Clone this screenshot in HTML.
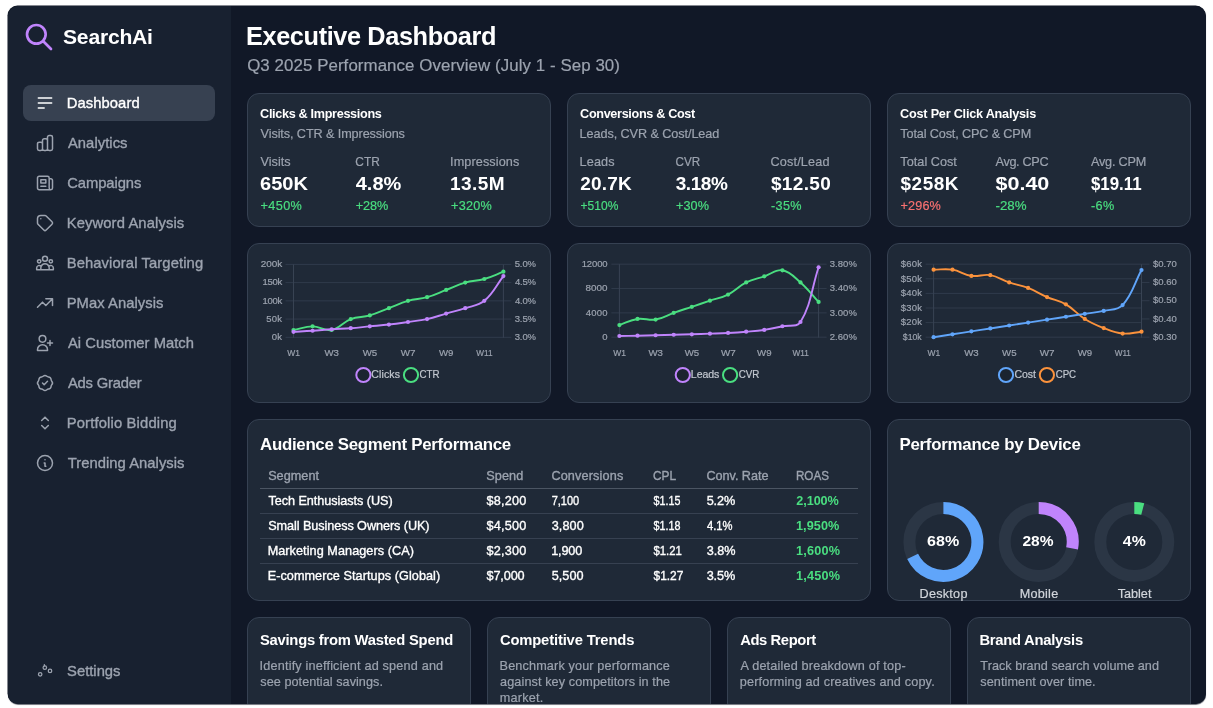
<!DOCTYPE html>
<html lang="en">
<head>
<meta charset="utf-8">
<title>SearchAi - Executive Dashboard</title>
<style>

*{box-sizing:border-box;margin:0;padding:0}
html,body{width:1213px;height:708px;overflow:hidden;background:#fff}
body{position:relative;font-family:"Liberation Sans", sans-serif;color:#fff;-webkit-font-smoothing:antialiased}
.win{position:absolute;left:8px;top:6px;width:1198px;height:698px;border-radius:10px;overflow:hidden;background:#111827;box-shadow:-.5px -.5px 0 0 #141b29,0 .6px .7px rgba(20,27,41,.6)}
.sidebar{position:absolute;left:0;top:0;width:223.00px;height:100%;background:#182130}
.main{position:absolute;left:223.00px;top:0;right:0;height:100%}
.t{position:absolute;white-space:nowrap;line-height:0;font-weight:400;font-style:normal;font-size:12px;display:block;text-align:left;border:0;transform-origin:0 50%}
.ic{position:absolute;display:block;overflow:visible}
.nav{position:absolute;left:15.00px;width:192.00px;height:36px;border-radius:8px;display:block;text-decoration:none}
.nav.active{background:#374151}
.card{position:absolute;background:#1f2937;border:1px solid #364152;border-radius:12px}
.card svg.chart{position:absolute;left:-1px;top:-1px;overflow:visible}
table,thead,tbody,tr{display:block;border:0}
.rule{position:absolute;height:1px;background:#374151}
.rule.head{background:#4b5563}

</style>
</head>
<body>
<div class="win">
<aside class="sidebar">
<div class="logo"><svg class="ic" style="left:15.00px;top:15.00px" width="32" height="32" viewBox="0 0 24 24" fill="none" stroke="#c084fc" stroke-width="2" stroke-linecap="round" stroke-linejoin="round"><path d="M21 21l-6-6m2-5a7 7 0 11-14 0 7 7 0 0114 0z"/></svg><span class="t" style="left:55.00px;top:31.10px;font-size:21.1px;font-weight:700;letter-spacing:-0.21px;">SearchAi</span></div>
<nav>
<a class="nav active" style="top:79.00px"><svg class="ic" style="left:12.00px;top:8.00px" width="20" height="20" viewBox="0 0 24 24" fill="none" stroke="#ffffff" stroke-width="1.8" stroke-linecap="round" stroke-linejoin="round"><path d="M4 6h16M4 12h16M4 18h7"/></svg><span class="t" style="left:43.70px;top:18.10px;font-size:14.77px;letter-spacing:0.09px;-webkit-text-stroke:0.35px currentColor;">Dashboard</span></a>
<a class="nav" style="top:119.00px"><svg class="ic" style="left:12.00px;top:8.00px" width="20" height="20" viewBox="0 0 24 24" fill="none" stroke="#9ca3af" stroke-width="1.8" stroke-linecap="round" stroke-linejoin="round"><path d="M9 19v-6a2 2 0 00-2-2H5a2 2 0 00-2 2v6a2 2 0 002 2h2a2 2 0 002-2zm0 0V9a2 2 0 012-2h2a2 2 0 012 2v10m-6 0a2 2 0 002 2h2a2 2 0 002-2m0 0V5a2 2 0 012-2h2a2 2 0 012 2v14a2 2 0 01-2 2h-2a2 2 0 01-2-2z"/></svg><span class="t" style="left:44.95px;top:18.10px;font-size:14.77px;color:#9ca3af;letter-spacing:0.06px;-webkit-text-stroke:0.35px currentColor;">Analytics</span></a>
<a class="nav" style="top:159.00px"><svg class="ic" style="left:12.00px;top:8.00px" width="20" height="20" viewBox="0 0 24 24" fill="none" stroke="#9ca3af" stroke-width="1.8" stroke-linecap="round" stroke-linejoin="round"><path d="M19 20H5a2 2 0 01-2-2V6a2 2 0 012-2h10a2 2 0 012 2v1m2 13a2 2 0 01-2-2V7m2 13a2 2 0 002-2V9a2 2 0 00-2-2h-2m-4-3H9M7 16h6M7 8h6v4H7V8z"/></svg><span class="t" style="left:44.20px;top:18.10px;font-size:14.77px;color:#9ca3af;letter-spacing:-0.06px;-webkit-text-stroke:0.35px currentColor;">Campaigns</span></a>
<a class="nav" style="top:199.00px"><svg class="ic" style="left:12.00px;top:8.00px" width="20" height="20" viewBox="0 0 24 24" fill="none" stroke="#9ca3af" stroke-width="1.8" stroke-linecap="round" stroke-linejoin="round"><path d="M7 7h.01M7 3h5c.512 0 1.024.195 1.414.586l7 7a2 2 0 010 2.828l-7 7a2 2 0 01-2.828 0l-7-7A1.994 1.994 0 013 12V7a4 4 0 014-4z"/></svg><span class="t" style="left:43.70px;top:18.10px;font-size:14.77px;color:#9ca3af;letter-spacing:0.12px;-webkit-text-stroke:0.35px currentColor;">Keyword Analysis</span></a>
<a class="nav" style="top:239.00px"><svg class="ic" style="left:12.00px;top:8.00px" width="20" height="20" viewBox="0 0 24 24" fill="none" stroke="#9ca3af" stroke-width="1.8" stroke-linecap="round" stroke-linejoin="round"><path d="M17 20h5v-2a3 3 0 00-5.356-1.857M17 20H7m10 0v-2c0-.656-.126-1.283-.356-1.857M7 20H2v-2a3 3 0 015.356-1.857M7 20v-2c0-.656.126-1.283.356-1.857m0 0a5.002 5.002 0 019.288 0M15 7a3 3 0 11-6 0 3 3 0 016 0zm6 3a2 2 0 11-4 0 2 2 0 014 0zM7 10a2 2 0 11-4 0 2 2 0 014 0z"/></svg><span class="t" style="left:43.70px;top:18.10px;font-size:14.77px;color:#9ca3af;letter-spacing:0.11px;-webkit-text-stroke:0.35px currentColor;">Behavioral Targeting</span></a>
<a class="nav" style="top:279.00px"><svg class="ic" style="left:12.00px;top:8.00px" width="20" height="20" viewBox="0 0 24 24" fill="none" stroke="#9ca3af" stroke-width="1.8" stroke-linecap="round" stroke-linejoin="round"><path d="M13 7h8m0 0v8m0-8l-8 8-4-4-6 6"/></svg><span class="t" style="left:43.70px;top:18.10px;font-size:14.77px;color:#9ca3af;letter-spacing:0.06px;-webkit-text-stroke:0.35px currentColor;">PMax Analysis</span></a>
<a class="nav" style="top:319.00px"><svg class="ic" style="left:12.00px;top:8.00px" width="20" height="20" viewBox="0 0 24 24" fill="none" stroke="#9ca3af" stroke-width="1.8" stroke-linecap="round" stroke-linejoin="round"><path d="M18 9v3m0 0v3m0-3h3m-3 0h-3m-2-5a4 4 0 11-8 0 4 4 0 018 0zM3 20a6 6 0 0112 0v1H3v-1z"/></svg><span class="t" style="left:44.95px;top:18.10px;font-size:14.77px;color:#9ca3af;letter-spacing:0.03px;-webkit-text-stroke:0.35px currentColor;">Ai Customer Match</span></a>
<a class="nav" style="top:359.00px"><svg class="ic" style="left:12.00px;top:8.00px" width="20" height="20" viewBox="0 0 24 24" fill="none" stroke="#9ca3af" stroke-width="1.8" stroke-linecap="round" stroke-linejoin="round"><path d="M9 12l2 2 4-4M7.835 4.697a3.42 3.42 0 001.946-.806 3.42 3.42 0 014.438 0 3.42 3.42 0 001.946.806 3.42 3.42 0 013.138 3.138 3.42 3.42 0 00.806 1.946 3.42 3.42 0 010 4.438 3.42 3.42 0 00-.806 1.946 3.42 3.42 0 01-3.138 3.138 3.42 3.42 0 00-1.946.806 3.42 3.42 0 01-4.438 0 3.42 3.42 0 00-1.946-.806 3.42 3.42 0 01-3.138-3.138 3.42 3.42 0 00-.806-1.946 3.42 3.42 0 010-4.438 3.42 3.42 0 00.806-1.946 3.42 3.42 0 013.138-3.138z"/></svg><span class="t" style="left:44.95px;top:18.10px;font-size:14.77px;color:#9ca3af;letter-spacing:-0.19px;-webkit-text-stroke:0.35px currentColor;">Ads Grader</span></a>
<a class="nav" style="top:399.00px"><svg class="ic" style="left:12.00px;top:8.00px" width="20" height="20" viewBox="0 0 24 24" fill="none" stroke="#9ca3af" stroke-width="1.8" stroke-linecap="round" stroke-linejoin="round"><path d="M8 9l4-4 4 4m0 6l-4 4-4-4"/></svg><span class="t" style="left:43.70px;top:18.10px;font-size:14.77px;color:#9ca3af;letter-spacing:0.16px;-webkit-text-stroke:0.35px currentColor;">Portfolio Bidding</span></a>
<a class="nav" style="top:439.00px"><svg class="ic" style="left:12.00px;top:8.00px" width="20" height="20" viewBox="0 0 24 24" fill="none" stroke="#9ca3af" stroke-width="1.8" stroke-linecap="round" stroke-linejoin="round"><path d="M13 16h-1v-4h-1m1-4h.01M21 12a9 9 0 11-18 0 9 9 0 0118 0z"/></svg><span class="t" style="left:44.70px;top:18.10px;font-size:14.77px;color:#9ca3af;letter-spacing:0.05px;-webkit-text-stroke:0.35px currentColor;">Trending Analysis</span></a>
</nav>
<a class="nav" style="top:646.00px"><svg class="ic" style="left:12.00px;top:8.00px" width="20" height="20" viewBox="0 0 24 24" fill="none" stroke="#9ca3af" stroke-width="1.5" stroke-linecap="round"><circle cx="6.2" cy="17.2" r="2.1"/><circle cx="11.8" cy="9.2" r="2.1"/><circle cx="18" cy="13.1" r="2.1"/><path d="M11.2 5.6l.3 1.4"/></svg><span class="t" style="left:44.10px;top:19.10px;font-size:14.77px;color:#9ca3af;-webkit-text-stroke:0.35px currentColor;">Settings</span></a>
</aside>
<main class="main">
<header><h1 class="t" style="left:15.00px;top:30.10px;font-size:25.32px;font-weight:700;letter-spacing:-0.39px;">Executive Dashboard</h1><p class="t" style="left:16.15px;top:60.10px;font-size:16.88px;color:#9ca3af;letter-spacing:0.08px;-webkit-text-stroke:0.2px currentColor;">Q3 2025 Performance Overview (July 1 - Sep 30)</p></header>
<section class="card" style="left:16.00px;top:87.00px;width:304.00px;height:134.00px"><h3 class="t" style="left:12.10px;top:20.10px;font-size:12.66px;font-weight:700;letter-spacing:-0.33px;">Clicks &amp; Impressions</h3><p class="t" style="left:12.60px;top:40.10px;font-size:12.66px;color:#9ca3af;letter-spacing:-0.10px;-webkit-text-stroke:0.2px currentColor;">Visits, CTR &amp; Impressions</p><div class="kpi"><span class="t" style="left:12.60px;top:68.10px;font-size:12.66px;color:#9ca3af;-webkit-text-stroke:0.2px currentColor;">Visits</span><strong class="t" style="left:12.00px;top:90.10px;font-size:18.99px;font-weight:700;transform:translateX(0.05px) scaleX(1.0562);">650K</strong><em class="t" style="left:12.60px;top:112.10px;font-size:12.66px;color:#4ade80;letter-spacing:0.37px;-webkit-text-stroke:0.2px currentColor;">+450%</em></div><div class="kpi"><span class="t" style="left:107.00px;top:68.10px;font-size:12.66px;color:#9ca3af;transform:translateX(0.30px) scaleX(0.9400);-webkit-text-stroke:0.2px currentColor;">CTR</span><strong class="t" style="left:107.00px;top:90.10px;font-size:18.99px;font-weight:700;transform:translateX(0.75px) scaleX(1.0530);">4.8%</strong><em class="t" style="left:107.80px;top:112.10px;font-size:12.66px;color:#4ade80;letter-spacing:-0.08px;-webkit-text-stroke:0.2px currentColor;">+28%</em></div><div class="kpi"><span class="t" style="left:202.10px;top:68.10px;font-size:12.66px;color:#9ca3af;letter-spacing:0.10px;-webkit-text-stroke:0.2px currentColor;">Impressions</span><strong class="t" style="left:202.05px;top:90.10px;font-size:18.99px;font-weight:700;letter-spacing:0.44px;">13.5M</strong><em class="t" style="left:203.10px;top:112.10px;font-size:12.66px;color:#4ade80;letter-spacing:0.25px;-webkit-text-stroke:0.2px currentColor;">+320%</em></div></section>
<section class="card" style="left:336.00px;top:87.00px;width:304.00px;height:134.00px"><h3 class="t" style="left:12.10px;top:20.10px;font-size:12.66px;font-weight:700;letter-spacing:-0.34px;">Conversions &amp; Cost</h3><p class="t" style="left:11.60px;top:40.10px;font-size:12.66px;color:#9ca3af;letter-spacing:-0.08px;-webkit-text-stroke:0.2px currentColor;">Leads, CVR &amp; Cost/Lead</p><div class="kpi"><span class="t" style="left:11.60px;top:68.10px;font-size:12.66px;color:#9ca3af;letter-spacing:0.13px;-webkit-text-stroke:0.2px currentColor;">Leads</span><strong class="t" style="left:12.30px;top:90.10px;font-size:18.99px;font-weight:700;letter-spacing:0.19px;">20.7K</strong><em class="t" style="left:12.00px;top:112.10px;font-size:12.66px;color:#4ade80;transform:translateX(0.60px) scaleX(0.9487);-webkit-text-stroke:0.2px currentColor;">+510%</em></div><div class="kpi"><span class="t" style="left:107.00px;top:68.10px;font-size:12.66px;color:#9ca3af;transform:translateX(0.50px) scaleX(0.9224);-webkit-text-stroke:0.2px currentColor;">CVR</span><strong class="t" style="left:107.70px;top:90.10px;font-size:18.99px;font-weight:700;letter-spacing:-0.44px;">3.18%</strong><em class="t" style="left:108.00px;top:112.10px;font-size:12.66px;color:#4ade80;letter-spacing:0.08px;-webkit-text-stroke:0.2px currentColor;">+30%</em></div><div class="kpi"><span class="t" style="left:202.50px;top:68.10px;font-size:12.66px;color:#9ca3af;letter-spacing:0.16px;-webkit-text-stroke:0.2px currentColor;">Cost/Lead</span><strong class="t" style="left:202.95px;top:90.10px;font-size:18.99px;font-weight:700;letter-spacing:0.35px;">$12.50</strong><em class="t" style="left:203.00px;top:112.10px;font-size:12.66px;color:#4ade80;letter-spacing:0.33px;-webkit-text-stroke:0.2px currentColor;">-35%</em></div></section>
<section class="card" style="left:656.00px;top:87.00px;width:304.00px;height:134.00px"><h3 class="t" style="left:12.10px;top:20.10px;font-size:12.66px;font-weight:700;letter-spacing:-0.22px;">Cost Per Click Analysis</h3><p class="t" style="left:12.35px;top:40.10px;font-size:12.66px;color:#9ca3af;letter-spacing:-0.14px;-webkit-text-stroke:0.2px currentColor;">Total Cost, CPC &amp; CPM</p><div class="kpi"><span class="t" style="left:12.35px;top:68.10px;font-size:12.66px;color:#9ca3af;letter-spacing:0.03px;-webkit-text-stroke:0.2px currentColor;">Total Cost</span><strong class="t" style="left:12.55px;top:90.10px;font-size:18.99px;font-weight:700;letter-spacing:0.50px;">$258K</strong><em class="t" style="left:12.60px;top:112.10px;font-size:12.66px;color:#f87171;letter-spacing:0.12px;-webkit-text-stroke:0.2px currentColor;">+296%</em></div><div class="kpi"><span class="t" style="left:107.50px;top:68.10px;font-size:12.66px;color:#9ca3af;letter-spacing:-0.32px;-webkit-text-stroke:0.2px currentColor;">Avg. CPC</span><strong class="t" style="left:107.00px;top:90.10px;font-size:18.99px;font-weight:700;transform:translateX(0.45px) scaleX(1.1344);">$0.40</strong><em class="t" style="left:107.00px;top:112.10px;font-size:12.66px;color:#4ade80;transform:translateX(0.50px) scaleX(1.0522);-webkit-text-stroke:0.2px currentColor;">-28%</em></div><div class="kpi"><span class="t" style="left:203.00px;top:68.10px;font-size:12.66px;color:#9ca3af;letter-spacing:-0.21px;-webkit-text-stroke:0.2px currentColor;">Avg. CPM</span><strong class="t" style="left:202.00px;top:90.10px;font-size:18.99px;font-weight:700;transform:translateX(0.95px) scaleX(0.8889);">$19.11</strong><em class="t" style="left:203.00px;top:112.10px;font-size:12.66px;color:#4ade80;letter-spacing:0.38px;-webkit-text-stroke:0.2px currentColor;">-6%</em></div></section>
<figure class="card" style="left:16.00px;top:237.00px;width:304.00px;height:160.00px"><svg class="chart" width="304.0" height="160.0" viewBox="0 0 304.0 160.0"><g stroke="#303b4b" stroke-width="1" fill="none"><path d="M38.50 21.40H256.40"/><path d="M38.50 39.62H256.40"/><path d="M38.50 57.85H256.40"/><path d="M38.50 76.07H256.40"/><path d="M38.50 94.30H256.40"/><path d="M256.40 21.40h8"/><path d="M256.40 39.62h8"/><path d="M256.40 57.85h8"/><path d="M256.40 76.07h8"/><path d="M256.40 94.30h8"/><path stroke="#384353" d="M46.50 21.40V94.80M256.40 21.40V94.80"/></g><g fill="#4ade80" stroke="#4ade80"><path d="M46.50 87.01C54.13 85.55 57.95 83.37 65.58 83.37C73.21 83.37 77.50 88.38 84.66 87.01C92.77 85.46 95.64 79.17 103.75 76.07C110.91 73.34 115.39 74.56 122.83 72.43C130.65 70.19 134.28 68.06 141.91 65.14C149.54 62.22 153.17 60.09 160.99 57.85C168.43 55.72 172.63 56.34 180.07 54.20C187.90 51.96 191.52 49.83 199.15 46.92C206.79 44.00 210.41 41.87 218.24 39.62C225.68 37.49 229.88 38.11 237.32 35.98C245.14 33.74 248.77 31.61 256.40 28.69" fill="none" stroke-width="1.9" stroke-linejoin="round"/><g stroke="none"><circle cx="46.50" cy="87.01" r="2.1"/><circle cx="65.58" cy="83.37" r="2.1"/><circle cx="84.66" cy="87.01" r="2.1"/><circle cx="103.75" cy="76.07" r="2.1"/><circle cx="122.83" cy="72.43" r="2.1"/><circle cx="141.91" cy="65.14" r="2.1"/><circle cx="160.99" cy="57.85" r="2.1"/><circle cx="180.07" cy="54.20" r="2.1"/><circle cx="199.15" cy="46.92" r="2.1"/><circle cx="218.24" cy="39.62" r="2.1"/><circle cx="237.32" cy="35.98" r="2.1"/><circle cx="256.40" cy="28.69" r="2.1"/></g></g><g fill="#c084fc" stroke="#c084fc"><path d="M46.50 88.83C54.13 88.40 57.95 88.25 65.58 87.74C73.22 87.23 77.03 86.79 84.66 86.28C92.29 85.77 96.12 85.77 103.75 85.19C111.39 84.60 115.19 84.09 122.83 83.37C130.46 82.64 134.29 82.42 141.91 81.54C149.56 80.67 153.37 80.08 160.99 78.99C168.63 77.90 172.55 77.73 180.07 76.07C187.81 74.37 191.52 72.79 199.15 70.61C206.79 68.42 210.71 67.65 218.24 65.14C225.98 62.55 231.29 62.92 237.32 57.85C246.55 50.09 248.77 42.98 256.40 33.06" fill="none" stroke-width="1.9" stroke-linejoin="round"/><g stroke="none"><circle cx="46.50" cy="88.83" r="2.1"/><circle cx="65.58" cy="87.74" r="2.1"/><circle cx="84.66" cy="86.28" r="2.1"/><circle cx="103.75" cy="85.19" r="2.1"/><circle cx="122.83" cy="83.37" r="2.1"/><circle cx="141.91" cy="81.54" r="2.1"/><circle cx="160.99" cy="78.99" r="2.1"/><circle cx="180.07" cy="76.07" r="2.1"/><circle cx="199.15" cy="70.61" r="2.1"/><circle cx="218.24" cy="65.14" r="2.1"/><circle cx="237.32" cy="57.85" r="2.1"/><circle cx="256.40" cy="33.06" r="2.1"/></g></g><circle cx="116.40" cy="132.00" r="7.1" fill="rgba(0,0,0,0.12)" stroke="#c084fc" stroke-width="2"/><circle cx="164.00" cy="132.00" r="7.1" fill="rgba(0,0,0,0.12)" stroke="#4ade80" stroke-width="2"/></svg><span class="t" style="left:12.00px;top:20.10px;font-size:9.49px;color:#9ca3af;transform:translateX(0.65px) scaleX(1.0489);-webkit-text-stroke:0.2px currentColor;">200k</span><span class="t" style="left:14.40px;top:38.10px;font-size:9.49px;color:#9ca3af;letter-spacing:-0.25px;-webkit-text-stroke:0.2px currentColor;">150k</span><span class="t" style="left:14.40px;top:57.10px;font-size:9.49px;color:#9ca3af;letter-spacing:-0.25px;-webkit-text-stroke:0.2px currentColor;">100k</span><span class="t" style="left:18.25px;top:75.10px;font-size:9.49px;color:#9ca3af;letter-spacing:0.25px;-webkit-text-stroke:0.2px currentColor;">50k</span><span class="t" style="left:23.85px;top:93.10px;font-size:9.49px;color:#9ca3af;letter-spacing:0.25px;-webkit-text-stroke:0.2px currentColor;">0k</span><span class="t" style="left:266.65px;top:20.10px;font-size:9.49px;color:#9ca3af;letter-spacing:-0.08px;-webkit-text-stroke:0.2px currentColor;">5.0%</span><span class="t" style="left:266.90px;top:38.10px;font-size:9.49px;color:#9ca3af;letter-spacing:-0.17px;-webkit-text-stroke:0.2px currentColor;">4.5%</span><span class="t" style="left:266.90px;top:57.10px;font-size:9.49px;color:#9ca3af;letter-spacing:-0.17px;-webkit-text-stroke:0.2px currentColor;">4.0%</span><span class="t" style="left:266.65px;top:75.10px;font-size:9.49px;color:#9ca3af;letter-spacing:-0.08px;-webkit-text-stroke:0.2px currentColor;">3.5%</span><span class="t" style="left:266.65px;top:93.10px;font-size:9.49px;color:#9ca3af;letter-spacing:-0.08px;-webkit-text-stroke:0.2px currentColor;">3.0%</span><span class="t" style="left:39.00px;top:109.10px;font-size:9.49px;color:#9ca3af;transform:translateX(0.35px) scaleX(0.8930);-webkit-text-stroke:0.2px currentColor;">W1</span><span class="t" style="left:76.00px;top:109.10px;font-size:9.49px;color:#9ca3af;transform:translateX(0.51px) scaleX(1.0180);-webkit-text-stroke:0.2px currentColor;">W3</span><span class="t" style="left:114.00px;top:109.10px;font-size:9.49px;color:#9ca3af;transform:translateX(0.68px) scaleX(1.0180);-webkit-text-stroke:0.2px currentColor;">W5</span><span class="t" style="left:152.00px;top:109.10px;font-size:9.49px;color:#9ca3af;transform:translateX(0.84px) scaleX(1.0358);-webkit-text-stroke:0.2px currentColor;">W7</span><span class="t" style="left:191.00px;top:109.10px;font-size:9.49px;color:#9ca3af;transform:translateX(0.00px) scaleX(1.0180);-webkit-text-stroke:0.2px currentColor;">W9</span><span class="t" style="left:228.00px;top:109.10px;font-size:9.49px;color:#9ca3af;transform:translateX(0.37px) scaleX(0.8650);-webkit-text-stroke:0.2px currentColor;">W11</span><div class="legend"><span class="t" style="left:123.30px;top:130.10px;font-size:10.55px;color:#c3c8d0;letter-spacing:0.10px;-webkit-text-stroke:0.2px currentColor;">Clicks</span><span class="t" style="left:171.00px;top:130.10px;font-size:10.55px;color:#c3c8d0;transform:translateX(0.55px) scaleX(0.9280);-webkit-text-stroke:0.2px currentColor;">CTR</span></div></figure>
<figure class="card" style="left:336.00px;top:237.00px;width:304.00px;height:160.00px"><svg class="chart" width="304.0" height="160.0" viewBox="0 0 304.0 160.0"><g stroke="#303b4b" stroke-width="1" fill="none"><path d="M44.40 21.20H251.60"/><path d="M44.40 45.53H251.60"/><path d="M44.40 69.87H251.60"/><path d="M44.40 94.20H251.60"/><path d="M251.60 21.20h8"/><path d="M251.60 45.53h8"/><path d="M251.60 69.87h8"/><path d="M251.60 94.20h8"/><path stroke="#384353" d="M52.40 21.20V94.70M251.60 21.20V94.70"/></g><g fill="#4ade80" stroke="#4ade80"><path d="M52.40 82.03C59.64 79.60 63.07 77.07 70.51 75.95C77.56 74.88 81.60 77.74 88.62 76.56C96.09 75.30 99.45 72.44 106.73 69.87C113.93 67.33 117.59 66.22 124.84 63.78C132.08 61.35 135.70 60.13 142.95 57.70C150.19 55.27 154.29 55.02 161.05 51.62C168.78 47.72 171.44 43.34 179.16 39.45C185.93 36.04 190.03 35.80 197.27 33.37C204.52 30.93 208.62 26.15 215.38 27.28C223.11 28.58 226.96 33.75 233.49 39.45C241.45 46.40 244.36 51.13 251.60 58.92" fill="none" stroke-width="1.9" stroke-linejoin="round"/><g stroke="none"><circle cx="52.40" cy="82.03" r="2.1"/><circle cx="70.51" cy="75.95" r="2.1"/><circle cx="88.62" cy="76.56" r="2.1"/><circle cx="106.73" cy="69.87" r="2.1"/><circle cx="124.84" cy="63.78" r="2.1"/><circle cx="142.95" cy="57.70" r="2.1"/><circle cx="161.05" cy="51.62" r="2.1"/><circle cx="179.16" cy="39.45" r="2.1"/><circle cx="197.27" cy="33.37" r="2.1"/><circle cx="215.38" cy="27.28" r="2.1"/><circle cx="233.49" cy="39.45" r="2.1"/><circle cx="251.60" cy="58.92" r="2.1"/></g></g><g fill="#c084fc" stroke="#c084fc"><path d="M52.40 92.98C59.64 92.86 63.27 92.83 70.51 92.68C77.75 92.53 81.37 92.44 88.62 92.25C95.86 92.07 99.48 91.96 106.73 91.77C113.97 91.57 117.59 91.50 124.84 91.28C132.08 91.06 135.70 90.94 142.95 90.67C150.19 90.40 153.82 90.33 161.05 89.94C168.30 89.55 171.93 89.33 179.16 88.72C186.42 88.12 190.08 87.99 197.27 86.90C204.57 85.80 208.16 84.83 215.38 83.25C222.65 81.66 229.96 84.75 233.49 78.99C244.44 61.15 244.36 46.14 251.60 24.24" fill="none" stroke-width="1.9" stroke-linejoin="round"/><g stroke="none"><circle cx="52.40" cy="92.98" r="2.1"/><circle cx="70.51" cy="92.68" r="2.1"/><circle cx="88.62" cy="92.25" r="2.1"/><circle cx="106.73" cy="91.77" r="2.1"/><circle cx="124.84" cy="91.28" r="2.1"/><circle cx="142.95" cy="90.67" r="2.1"/><circle cx="161.05" cy="89.94" r="2.1"/><circle cx="179.16" cy="88.72" r="2.1"/><circle cx="197.27" cy="86.90" r="2.1"/><circle cx="215.38" cy="83.25" r="2.1"/><circle cx="233.49" cy="78.99" r="2.1"/><circle cx="251.60" cy="24.24" r="2.1"/></g></g><circle cx="115.80" cy="132.00" r="7.1" fill="rgba(0,0,0,0.12)" stroke="#c084fc" stroke-width="2"/><circle cx="163.10" cy="132.00" r="7.1" fill="rgba(0,0,0,0.12)" stroke="#4ade80" stroke-width="2"/></svg><span class="t" style="left:13.70px;top:20.10px;font-size:9.49px;color:#9ca3af;letter-spacing:-0.12px;-webkit-text-stroke:0.2px currentColor;">12000</span><span class="t" style="left:17.00px;top:44.10px;font-size:9.49px;color:#9ca3af;transform:translateX(0.55px) scaleX(1.0369);-webkit-text-stroke:0.2px currentColor;">8000</span><span class="t" style="left:17.80px;top:69.10px;font-size:9.49px;color:#9ca3af;letter-spacing:0.25px;-webkit-text-stroke:0.2px currentColor;">4000</span><span class="t" style="left:34.35px;top:93.10px;font-size:9.49px;color:#9ca3af;-webkit-text-stroke:0.2px currentColor;">0</span><span class="t" style="left:261.75px;top:20.10px;font-size:9.49px;color:#9ca3af;letter-spacing:0.06px;-webkit-text-stroke:0.2px currentColor;">3.80%</span><span class="t" style="left:261.75px;top:44.10px;font-size:9.49px;color:#9ca3af;letter-spacing:0.06px;-webkit-text-stroke:0.2px currentColor;">3.40%</span><span class="t" style="left:261.75px;top:69.10px;font-size:9.49px;color:#9ca3af;letter-spacing:0.06px;-webkit-text-stroke:0.2px currentColor;">3.00%</span><span class="t" style="left:261.75px;top:93.10px;font-size:9.49px;color:#9ca3af;letter-spacing:0.06px;-webkit-text-stroke:0.2px currentColor;">2.60%</span><span class="t" style="left:45.00px;top:109.10px;font-size:9.49px;color:#9ca3af;transform:translateX(0.25px) scaleX(0.8930);-webkit-text-stroke:0.2px currentColor;">W1</span><span class="t" style="left:80.00px;top:109.10px;font-size:9.49px;color:#9ca3af;transform:translateX(0.47px) scaleX(1.0180);-webkit-text-stroke:0.2px currentColor;">W3</span><span class="t" style="left:116.00px;top:109.10px;font-size:9.49px;color:#9ca3af;transform:translateX(0.69px) scaleX(1.0180);-webkit-text-stroke:0.2px currentColor;">W5</span><span class="t" style="left:152.00px;top:109.10px;font-size:9.49px;color:#9ca3af;transform:translateX(0.90px) scaleX(1.0358);-webkit-text-stroke:0.2px currentColor;">W7</span><span class="t" style="left:189.00px;top:109.10px;font-size:9.49px;color:#9ca3af;transform:translateX(0.12px) scaleX(1.0180);-webkit-text-stroke:0.2px currentColor;">W9</span><span class="t" style="left:224.00px;top:109.10px;font-size:9.49px;color:#9ca3af;transform:translateX(0.54px) scaleX(0.8650);-webkit-text-stroke:0.2px currentColor;">W11</span><div class="legend"><span class="t" style="left:122.85px;top:130.10px;font-size:10.55px;color:#c3c8d0;letter-spacing:-0.06px;-webkit-text-stroke:0.2px currentColor;">Leads</span><span class="t" style="left:170.00px;top:130.10px;font-size:10.55px;color:#c3c8d0;transform:translateX(0.65px) scaleX(0.9298);-webkit-text-stroke:0.2px currentColor;">CVR</span></div></figure>
<figure class="card" style="left:656.00px;top:237.00px;width:304.00px;height:160.00px"><svg class="chart" width="304.0" height="160.0" viewBox="0 0 304.0 160.0"><g stroke="#303b4b" stroke-width="1" fill="none"><path d="M38.60 21.20H254.50"/><path d="M38.60 35.80H254.50"/><path d="M38.60 50.40H254.50"/><path d="M38.60 65.00H254.50"/><path d="M38.60 79.60H254.50"/><path d="M38.60 94.20H254.50"/><path d="M254.50 21.20h8"/><path d="M254.50 39.45h8"/><path d="M254.50 57.70h8"/><path d="M254.50 75.95h8"/><path d="M254.50 94.20h8"/><path stroke="#384353" d="M46.60 21.20V94.70M254.50 21.20V94.70"/></g><g fill="#fb923c" stroke="#fb923c"><path d="M46.60 26.67C54.16 26.67 58.13 25.47 65.50 26.67C73.25 27.95 76.65 31.76 84.40 32.88C91.77 33.95 96.00 30.88 103.30 32.15C111.12 33.51 114.53 36.86 122.20 39.45C129.65 41.97 133.78 42.10 141.10 44.93C148.90 47.94 152.31 50.71 160.00 54.05C167.43 57.28 171.96 57.33 178.90 61.35C187.08 66.09 189.75 70.90 197.80 75.95C204.87 80.39 208.90 82.06 216.70 85.07C224.02 87.90 227.91 89.81 235.60 90.55C243.03 91.27 246.94 89.45 254.50 88.72" fill="none" stroke-width="1.9" stroke-linejoin="round"/><g stroke="none"><circle cx="46.60" cy="26.67" r="2.1"/><circle cx="65.50" cy="26.67" r="2.1"/><circle cx="84.40" cy="32.88" r="2.1"/><circle cx="103.30" cy="32.15" r="2.1"/><circle cx="122.20" cy="39.45" r="2.1"/><circle cx="141.10" cy="44.93" r="2.1"/><circle cx="160.00" cy="54.05" r="2.1"/><circle cx="178.90" cy="61.35" r="2.1"/><circle cx="197.80" cy="75.95" r="2.1"/><circle cx="216.70" cy="85.07" r="2.1"/><circle cx="235.60" cy="90.55" r="2.1"/><circle cx="254.50" cy="88.72" r="2.1"/></g></g><g fill="#60a5fa" stroke="#60a5fa"><path d="M46.60 94.20C54.16 93.03 57.94 92.45 65.50 91.28C73.06 90.11 76.84 89.53 84.40 88.36C91.96 87.19 95.74 86.61 103.30 85.44C110.86 84.27 114.64 83.69 122.20 82.52C129.76 81.35 133.54 80.77 141.10 79.60C148.66 78.43 152.44 77.85 160.00 76.68C167.56 75.51 171.34 74.93 178.90 73.76C186.46 72.59 190.24 72.01 197.80 70.84C205.36 69.67 209.27 69.64 216.70 67.92C224.39 66.14 230.58 67.51 235.60 62.08C245.70 51.16 246.94 41.06 254.50 27.04" fill="none" stroke-width="1.9" stroke-linejoin="round"/><g stroke="none"><circle cx="46.60" cy="94.20" r="2.1"/><circle cx="65.50" cy="91.28" r="2.1"/><circle cx="84.40" cy="88.36" r="2.1"/><circle cx="103.30" cy="85.44" r="2.1"/><circle cx="122.20" cy="82.52" r="2.1"/><circle cx="141.10" cy="79.60" r="2.1"/><circle cx="160.00" cy="76.68" r="2.1"/><circle cx="178.90" cy="73.76" r="2.1"/><circle cx="197.80" cy="70.84" r="2.1"/><circle cx="216.70" cy="67.92" r="2.1"/><circle cx="235.60" cy="62.08" r="2.1"/><circle cx="254.50" cy="27.04" r="2.1"/></g></g><circle cx="119.00" cy="132.00" r="7.1" fill="rgba(0,0,0,0.12)" stroke="#60a5fa" stroke-width="2"/><circle cx="159.90" cy="132.00" r="7.1" fill="rgba(0,0,0,0.12)" stroke="#fb923c" stroke-width="2"/></svg><span class="t" style="left:12.80px;top:20.10px;font-size:9.49px;color:#9ca3af;letter-spacing:0.17px;-webkit-text-stroke:0.2px currentColor;">$60k</span><span class="t" style="left:12.80px;top:35.10px;font-size:9.49px;color:#9ca3af;letter-spacing:0.17px;-webkit-text-stroke:0.2px currentColor;">$50k</span><span class="t" style="left:12.80px;top:49.10px;font-size:9.49px;color:#9ca3af;letter-spacing:0.17px;-webkit-text-stroke:0.2px currentColor;">$40k</span><span class="t" style="left:12.80px;top:64.10px;font-size:9.49px;color:#9ca3af;letter-spacing:0.17px;-webkit-text-stroke:0.2px currentColor;">$30k</span><span class="t" style="left:12.80px;top:78.10px;font-size:9.49px;color:#9ca3af;letter-spacing:0.17px;-webkit-text-stroke:0.2px currentColor;">$20k</span><span class="t" style="left:14.00px;top:93.10px;font-size:9.49px;color:#9ca3af;transform:translateX(0.80px) scaleX(0.9158);-webkit-text-stroke:0.2px currentColor;">$10k</span><span class="t" style="left:264.90px;top:20.10px;font-size:9.49px;color:#9ca3af;letter-spacing:0.06px;-webkit-text-stroke:0.2px currentColor;">$0.70</span><span class="t" style="left:264.90px;top:38.10px;font-size:9.49px;color:#9ca3af;letter-spacing:0.06px;-webkit-text-stroke:0.2px currentColor;">$0.60</span><span class="t" style="left:264.90px;top:56.10px;font-size:9.49px;color:#9ca3af;letter-spacing:0.06px;-webkit-text-stroke:0.2px currentColor;">$0.50</span><span class="t" style="left:264.90px;top:75.10px;font-size:9.49px;color:#9ca3af;letter-spacing:0.06px;-webkit-text-stroke:0.2px currentColor;">$0.40</span><span class="t" style="left:264.90px;top:93.10px;font-size:9.49px;color:#9ca3af;letter-spacing:0.06px;-webkit-text-stroke:0.2px currentColor;">$0.30</span><span class="t" style="left:39.00px;top:109.10px;font-size:9.49px;color:#9ca3af;transform:translateX(0.45px) scaleX(0.8930);-webkit-text-stroke:0.2px currentColor;">W1</span><span class="t" style="left:76.00px;top:109.10px;font-size:9.49px;color:#9ca3af;transform:translateX(0.25px) scaleX(1.0180);-webkit-text-stroke:0.2px currentColor;">W3</span><span class="t" style="left:114.00px;top:109.10px;font-size:9.49px;color:#9ca3af;transform:translateX(0.05px) scaleX(1.0180);-webkit-text-stroke:0.2px currentColor;">W5</span><span class="t" style="left:151.00px;top:109.10px;font-size:9.49px;color:#9ca3af;transform:translateX(0.85px) scaleX(1.0358);-webkit-text-stroke:0.2px currentColor;">W7</span><span class="t" style="left:189.00px;top:109.10px;font-size:9.49px;color:#9ca3af;transform:translateX(0.65px) scaleX(1.0180);-webkit-text-stroke:0.2px currentColor;">W9</span><span class="t" style="left:226.00px;top:109.10px;font-size:9.49px;color:#9ca3af;transform:translateX(0.65px) scaleX(0.8650);-webkit-text-stroke:0.2px currentColor;">W11</span><div class="legend"><span class="t" style="left:126.50px;top:130.10px;font-size:10.55px;color:#c3c8d0;letter-spacing:-0.08px;-webkit-text-stroke:0.2px currentColor;">Cost</span><span class="t" style="left:167.00px;top:130.10px;font-size:10.55px;color:#c3c8d0;transform:translateX(0.65px) scaleX(0.9187);-webkit-text-stroke:0.2px currentColor;">CPC</span></div></figure>
<section class="card" style="left:16.00px;top:413.00px;width:624.00px;height:182.00px"><h2 class="t" style="left:12.10px;top:25.10px;font-size:16.88px;font-weight:700;letter-spacing:-0.31px;">Audience Segment Performance</h2><table><thead><tr><th class="t" style="left:20.15px;top:56.10px;font-size:12.66px;color:#9ca3af;letter-spacing:0.04px;-webkit-text-stroke:0.35px currentColor;">Segment</th><th class="t" style="left:238.35px;top:56.10px;font-size:12.66px;color:#9ca3af;letter-spacing:0.06px;-webkit-text-stroke:0.35px currentColor;">Spend</th><th class="t" style="left:303.40px;top:56.10px;font-size:12.66px;color:#9ca3af;letter-spacing:0.15px;-webkit-text-stroke:0.35px currentColor;">Conversions</th><th class="t" style="left:405.00px;top:56.10px;font-size:12.66px;color:#9ca3af;transform:scaleX(0.9375);-webkit-text-stroke:0.35px currentColor;">CPL</th><th class="t" style="left:458.40px;top:56.10px;font-size:12.66px;color:#9ca3af;letter-spacing:-0.03px;-webkit-text-stroke:0.35px currentColor;">Conv. Rate</th><th class="t" style="left:547.00px;top:56.10px;font-size:12.66px;color:#9ca3af;transform:translateX(0.95px) scaleX(0.9209);-webkit-text-stroke:0.35px currentColor;">ROAS</th></tr></thead><tbody><tr><td class="t" style="left:20.40px;top:81.10px;font-size:12.66px;letter-spacing:-0.05px;-webkit-text-stroke:0.35px currentColor;">Tech Enthusiasts (US)</td><td class="t" style="left:238.60px;top:81.10px;font-size:12.66px;letter-spacing:0.20px;-webkit-text-stroke:0.35px currentColor;">$8,200</td><td class="t" style="left:303.00px;top:81.10px;font-size:12.66px;transform:translateX(0.65px) scaleX(0.8710);-webkit-text-stroke:0.35px currentColor;">7,100</td><td class="t" style="left:405.00px;top:81.10px;font-size:12.66px;transform:translateX(0.50px) scaleX(0.8480);-webkit-text-stroke:0.35px currentColor;">$1.15</td><td class="t" style="left:458.65px;top:81.10px;font-size:12.66px;letter-spacing:-0.08px;-webkit-text-stroke:0.35px currentColor;">5.2%</td><td class="t" style="left:548.20px;top:81.10px;font-size:12.66px;font-weight:700;color:#4ade80;letter-spacing:-0.05px;">2,100%</td></tr><tr><td class="t" style="left:20.15px;top:106.10px;font-size:12.66px;letter-spacing:-0.07px;-webkit-text-stroke:0.35px currentColor;">Small Business Owners (UK)</td><td class="t" style="left:238.60px;top:106.10px;font-size:12.66px;letter-spacing:0.20px;-webkit-text-stroke:0.35px currentColor;">$4,500</td><td class="t" style="left:303.65px;top:106.10px;font-size:12.66px;letter-spacing:0.13px;-webkit-text-stroke:0.35px currentColor;">3,800</td><td class="t" style="left:405.00px;top:106.10px;font-size:12.66px;transform:translateX(0.50px) scaleX(0.8480);-webkit-text-stroke:0.35px currentColor;">$1.18</td><td class="t" style="left:458.00px;top:106.10px;font-size:12.66px;transform:translateX(0.90px) scaleX(0.8870);-webkit-text-stroke:0.35px currentColor;">4.1%</td><td class="t" style="left:547.95px;top:106.10px;font-size:12.66px;font-weight:700;color:#4ade80;letter-spacing:0.10px;">1,950%</td></tr><tr><td class="t" style="left:19.65px;top:131.10px;font-size:12.66px;letter-spacing:0.06px;-webkit-text-stroke:0.35px currentColor;">Marketing Managers (CA)</td><td class="t" style="left:238.60px;top:131.10px;font-size:12.66px;letter-spacing:0.20px;-webkit-text-stroke:0.35px currentColor;">$2,300</td><td class="t" style="left:303.15px;top:131.10px;font-size:12.66px;letter-spacing:-0.12px;-webkit-text-stroke:0.35px currentColor;">1,900</td><td class="t" style="left:405.00px;top:131.10px;font-size:12.66px;transform:translateX(0.50px) scaleX(0.8960);-webkit-text-stroke:0.35px currentColor;">$1.21</td><td class="t" style="left:458.65px;top:131.10px;font-size:12.66px;-webkit-text-stroke:0.35px currentColor;">3.8%</td><td class="t" style="left:547.95px;top:131.10px;font-size:12.66px;font-weight:700;color:#4ade80;letter-spacing:0.25px;">1,600%</td></tr><tr><td class="t" style="left:19.65px;top:156.10px;font-size:12.66px;letter-spacing:0.06px;-webkit-text-stroke:0.35px currentColor;">E-commerce Startups (Global)</td><td class="t" style="left:238.60px;top:156.10px;font-size:12.66px;letter-spacing:-0.15px;-webkit-text-stroke:0.35px currentColor;">$7,000</td><td class="t" style="left:303.65px;top:156.10px;font-size:12.66px;letter-spacing:0.06px;-webkit-text-stroke:0.35px currentColor;">5,500</td><td class="t" style="left:405.00px;top:156.10px;font-size:12.66px;transform:translateX(0.50px) scaleX(0.9440);-webkit-text-stroke:0.35px currentColor;">$1.27</td><td class="t" style="left:458.65px;top:156.10px;font-size:12.66px;letter-spacing:-0.08px;-webkit-text-stroke:0.35px currentColor;">3.5%</td><td class="t" style="left:547.95px;top:156.10px;font-size:12.66px;font-weight:700;color:#4ade80;letter-spacing:0.25px;">1,450%</td></tr></tbody></table><div class="rule head" style="left:12.40px;width:597.40px;top:68.20px"></div><div class="rule" style="left:12.40px;width:597.40px;top:92.90px"></div><div class="rule" style="left:12.40px;width:597.40px;top:118.00px"></div><div class="rule" style="left:12.40px;width:597.40px;top:143.00px"></div></section>
<section class="card" style="left:656.00px;top:413.00px;width:304.00px;height:182.00px"><h2 class="t" style="left:11.40px;top:25.10px;font-size:16.88px;font-weight:700;letter-spacing:-0.25px;">Performance by Device</h2><svg class="chart" width="304.0" height="182.0"><circle cx="56.40" cy="122.90" r="34.0" fill="none" stroke="#2b3645" stroke-width="12.0"/><path d="M56.40 88.90A34.0 34.0 0 1 1 25.64 137.38" fill="none" stroke="#60a5fa" stroke-width="12.0"/><circle cx="151.70" cy="122.90" r="34.0" fill="none" stroke="#2b3645" stroke-width="12.0"/><path d="M151.70 88.90A34.0 34.0 0 0 1 185.10 129.27" fill="none" stroke="#c084fc" stroke-width="12.0"/><circle cx="247.30" cy="122.90" r="34.0" fill="none" stroke="#2b3645" stroke-width="12.0"/><path d="M247.30 88.90A34.0 34.0 0 0 1 255.76 89.97" fill="none" stroke="#4ade80" stroke-width="12.0"/></svg><div class="donut"><strong class="t" style="left:39.00px;top:121.10px;font-size:14.77px;font-weight:700;transform:translateX(0.10px) scaleX(1.0870);">68%</strong><span class="t" style="left:31.50px;top:174.10px;font-size:12.66px;color:#d1d5db;letter-spacing:0.25px;-webkit-text-stroke:0.2px currentColor;">Desktop</span></div><div class="donut"><strong class="t" style="left:134.00px;top:121.10px;font-size:14.77px;font-weight:700;transform:translateX(0.40px) scaleX(1.0522);">28%</strong><span class="t" style="left:131.70px;top:174.10px;font-size:12.66px;color:#d1d5db;letter-spacing:0.25px;-webkit-text-stroke:0.2px currentColor;">Mobile</span></div><div class="donut"><strong class="t" style="left:234.00px;top:121.10px;font-size:14.77px;font-weight:700;transform:translateX(0.85px) scaleX(1.0724);">4%</strong><span class="t" style="left:229.65px;top:174.10px;font-size:12.66px;color:#d1d5db;-webkit-text-stroke:0.2px currentColor;">Tablet</span></div></section>
<article class="card" style="left:16.00px;top:611.00px;width:224.00px;height:98.00px"><h3 class="t" style="left:11.90px;top:22.10px;font-size:14.77px;font-weight:700;letter-spacing:-0.23px;">Savings from Wasted Spend</h3><p><span class="t" style="left:11.60px;top:48.10px;font-size:12.66px;color:#9ca3af;letter-spacing:0.18px;-webkit-text-stroke:0.2px currentColor;">Identify inefficient ad spend and</span><span class="t" style="left:12.35px;top:64.10px;font-size:12.66px;color:#9ca3af;letter-spacing:0.04px;-webkit-text-stroke:0.2px currentColor;">see potential savings.</span></p></article>
<article class="card" style="left:256.00px;top:611.00px;width:224.00px;height:98.00px"><h3 class="t" style="left:11.90px;top:22.10px;font-size:14.77px;font-weight:700;letter-spacing:-0.15px;">Competitive Trends</h3><p><span class="t" style="left:11.60px;top:48.10px;font-size:12.66px;color:#9ca3af;letter-spacing:0.14px;-webkit-text-stroke:0.2px currentColor;">Benchmark your performance</span><span class="t" style="left:12.10px;top:64.10px;font-size:12.66px;color:#9ca3af;letter-spacing:0.09px;-webkit-text-stroke:0.2px currentColor;">against key competitors in the</span><span class="t" style="left:11.85px;top:80.10px;font-size:12.66px;color:#9ca3af;letter-spacing:0.21px;-webkit-text-stroke:0.2px currentColor;">market.</span></p></article>
<article class="card" style="left:496.00px;top:611.00px;width:224.00px;height:98.00px"><h3 class="t" style="left:12.15px;top:22.10px;font-size:14.77px;font-weight:700;letter-spacing:-0.39px;">Ads Report</h3><p><span class="t" style="left:12.60px;top:48.10px;font-size:12.66px;color:#9ca3af;letter-spacing:0.17px;-webkit-text-stroke:0.2px currentColor;">A detailed breakdown of top-</span><span class="t" style="left:11.85px;top:64.10px;font-size:12.66px;color:#9ca3af;letter-spacing:0.16px;-webkit-text-stroke:0.2px currentColor;">performing ad creatives and copy.</span></p></article>
<article class="card" style="left:736.00px;top:611.00px;width:224.00px;height:98.00px"><h3 class="t" style="left:11.40px;top:22.10px;font-size:14.77px;font-weight:700;letter-spacing:-0.25px;">Brand Analysis</h3><p><span class="t" style="left:12.35px;top:48.10px;font-size:12.66px;color:#9ca3af;letter-spacing:0.04px;-webkit-text-stroke:0.2px currentColor;">Track brand search volume and</span><span class="t" style="left:12.35px;top:64.10px;font-size:12.66px;color:#9ca3af;letter-spacing:0.07px;-webkit-text-stroke:0.2px currentColor;">sentiment over time.</span></p></article>
</main>
</div>
</body>
</html>
